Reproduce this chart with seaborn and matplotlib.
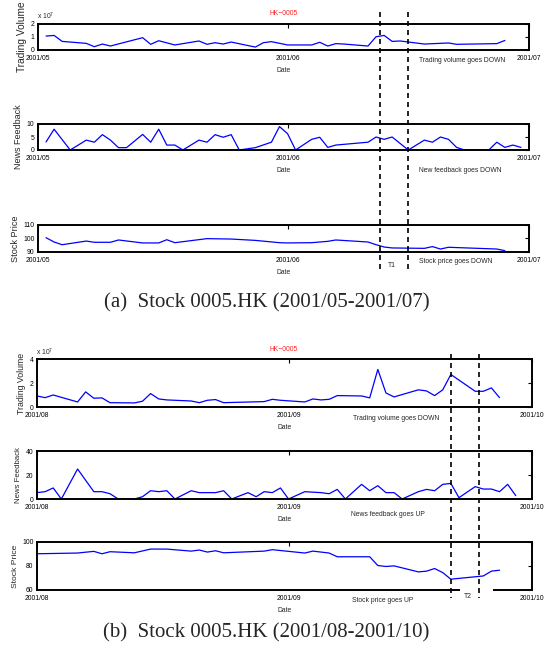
import pandas as pd
import matplotlib
matplotlib.use('Agg')
import matplotlib.pyplot as plt
import matplotlib.dates as mdates
from matplotlib.lines import Line2D
from matplotlib.patches import Rectangle
from matplotlib.transforms import blended_transform_factory
import seaborn as sns

# ---------------- data: (a) 2001/05 - 2001/07 ----------------
vol_a_dates = ['2001-05-02', '2001-05-03', '2001-05-04', '2001-05-07', '2001-05-08', '2001-05-09',
               '2001-05-10', '2001-05-14', '2001-05-15', '2001-05-16', '2001-05-18', '2001-05-21',
               '2001-05-22', '2001-05-23', '2001-05-24', '2001-05-25', '2001-05-28', '2001-05-29',
               '2001-05-30', '2001-06-01', '2001-06-04', '2001-06-05', '2001-06-06', '2001-06-07',
               '2001-06-08', '2001-06-11', '2001-06-12', '2001-06-13', '2001-06-14', '2001-06-15',
               '2001-06-18', '2001-06-21', '2001-06-22', '2001-06-27', '2001-06-28']
vol_a = [1.05, 1.1, 0.65, 0.5, 0.25, 0.45, 0.3, 0.93, 0.43, 0.7, 0.38, 0.68, 0.43, 0.55, 0.45,
         0.6, 0.22, 0.55, 0.63, 0.38, 0.38, 0.58, 0.3, 0.48, 0.45, 0.3, 1.0, 1.1, 0.65, 0.68,
         0.45, 0.53, 0.43, 0.48, 0.72]

news_a_dates = ['2001-05-02', '2001-05-03', '2001-05-05', '2001-05-07', '2001-05-08', '2001-05-09',
                '2001-05-10', '2001-05-11', '2001-05-12', '2001-05-14', '2001-05-15', '2001-05-16',
                '2001-05-17', '2001-05-18', '2001-05-19', '2001-05-21', '2001-05-22', '2001-05-23',
                '2001-05-24', '2001-05-25', '2001-05-26', '2001-05-28', '2001-05-30', '2001-05-31',
                '2001-06-01', '2001-06-02', '2001-06-04', '2001-06-05', '2001-06-06', '2001-06-07',
                '2001-06-11', '2001-06-12', '2001-06-13', '2001-06-14', '2001-06-16', '2001-06-18',
                '2001-06-19', '2001-06-20', '2001-06-21', '2001-06-22', '2001-06-23', '2001-06-26',
                '2001-06-27', '2001-06-28', '2001-06-29', '2001-06-30']
news_a = [3.1, 8, 0, 3.8, 3, 5.9, 3.8, 0.9, 0.9, 6, 3, 8, 1.9, 1.9, 0, 3.8, 3, 5.9, 4.9, 5.9, 0,
          0.9, 3, 9, 6.3, 0, 4.1, 4.9, 1, 1.9, 3, 5, 4.1, 5, 0, 3.8, 3, 5, 4.1, 1, 0, 0, 3, 1,
          1.9, 1]

price_a_dates = ['2001-05-02', '2001-05-03', '2001-05-04', '2001-05-07', '2001-05-08', '2001-05-10',
                 '2001-05-11', '2001-05-14', '2001-05-16', '2001-05-17', '2001-05-18', '2001-05-22',
                 '2001-05-25', '2001-05-28', '2001-05-31', '2001-06-01', '2001-06-04', '2001-06-05',
                 '2001-06-06', '2001-06-07', '2001-06-11', '2001-06-12', '2001-06-13', '2001-06-14',
                 '2001-06-18', '2001-06-19', '2001-06-20', '2001-06-21', '2001-06-27', '2001-06-28']
price_a = [100.6, 97.4, 95.4, 98.1, 97.2, 97.2, 98.9, 96.7, 96.7, 99.1, 96.9, 99.9, 99.6, 98.6,
           96.9, 96.7, 96.9, 97.4, 97.9, 98.9, 97.4, 95.4, 93.7, 93.0, 92.7, 94.0, 92.2, 93.5,
           92.2, 91.0]

events_a = ['2001-06-12 12:00', '2001-06-16 00:00']

# ---------------- data: (b) 2001/08 - 2001/10 ----------------
vol_b_dates = ['2001-08-01', '2001-08-02', '2001-08-03', '2001-08-06', '2001-08-07', '2001-08-08',
               '2001-08-09', '2001-08-10', '2001-08-13', '2001-08-14', '2001-08-15', '2001-08-16',
               '2001-08-17', '2001-08-20', '2001-08-21', '2001-08-22', '2001-08-23', '2001-08-24',
               '2001-08-29', '2001-08-30', '2001-08-31', '2001-09-03', '2001-09-04', '2001-09-05',
               '2001-09-06', '2001-09-07', '2001-09-10', '2001-09-11', '2001-09-12', '2001-09-13',
               '2001-09-14', '2001-09-17', '2001-09-18', '2001-09-19', '2001-09-20', '2001-09-21',
               '2001-09-24', '2001-09-25', '2001-09-26', '2001-09-27']
vol_b = [0.92, 0.78, 1.0, 0.42, 1.26, 0.73, 0.76, 0.36, 0.34, 0.48, 1.12, 0.67, 0.59, 0.5, 0.36,
         0.56, 0.62, 0.36, 0.45, 0.64, 0.56, 0.42, 0.67, 0.59, 0.64, 0.95, 0.92, 0.76, 3.13, 1.17,
         0.84, 1.43, 1.34, 0.95, 1.43, 2.71, 1.31, 1.31, 1.59, 0.78]

news_b_dates = ['2001-08-01', '2001-08-02', '2001-08-03', '2001-08-04', '2001-08-06', '2001-08-08',
                '2001-08-09', '2001-08-10', '2001-08-11', '2001-08-13', '2001-08-14', '2001-08-15',
                '2001-08-16', '2001-08-17', '2001-08-18', '2001-08-20', '2001-08-21', '2001-08-23',
                '2001-08-24', '2001-08-25', '2001-08-27', '2001-08-28', '2001-08-29', '2001-08-30',
                '2001-08-31', '2001-09-01', '2001-09-03', '2001-09-05', '2001-09-06', '2001-09-07',
                '2001-09-08', '2001-09-10', '2001-09-11', '2001-09-12', '2001-09-13', '2001-09-14',
                '2001-09-15', '2001-09-17', '2001-09-18', '2001-09-19', '2001-09-20', '2001-09-21',
                '2001-09-22', '2001-09-24', '2001-09-25', '2001-09-26', '2001-09-27', '2001-09-28',
                '2001-09-29']
news_b = [5.3, 6.1, 9.2, 0, 25, 6.1, 6.1, 4.4, 0, 0, 1.9, 6.9, 6.1, 6.9, 0, 6.9, 5.3, 5.3, 6.9, 0,
          5.3, 1.9, 6.1, 5.3, 9.2, 0, 6.1, 5.3, 4.4, 8, 0, 12.2, 6.9, 11.1, 5.3, 5.3, 0, 6.1, 8,
          6.9, 12.2, 13, 1.1, 10.3, 8.3, 8.3, 6.1, 12.2, 2.8]

price_b_dates = ['2001-08-01', '2001-08-06', '2001-08-08', '2001-08-09', '2001-08-10', '2001-08-13',
                 '2001-08-15', '2001-08-17', '2001-08-20', '2001-08-21', '2001-08-22', '2001-08-23',
                 '2001-08-24', '2001-08-29', '2001-08-30', '2001-09-03', '2001-09-04', '2001-09-06',
                 '2001-09-07', '2001-09-11', '2001-09-12', '2001-09-13', '2001-09-14', '2001-09-17',
                 '2001-09-18', '2001-09-19', '2001-09-20', '2001-09-21', '2001-09-25', '2001-09-26',
                 '2001-09-27']
price_b = [90.2, 90.8, 92.2, 90.2, 91.9, 91.0, 94.1, 94.1, 92.4, 93.3, 91.6, 92.7, 91.0, 92.4, 93.6,
           90.8, 92.4, 90.8, 87.7, 87.7, 80.4, 79.6, 80.1, 75.1, 75.7, 77.9, 74.5, 69.0, 71.7, 75.7,
           76.5]

events_b = ['2001-09-21 00:00', '2001-09-24 11:00']

# ---------------- style ----------------
sns.set_theme(style='white')
REG = ['Liberation Sans', 'DejaVu Sans']
plt.rcParams['font.family'] = REG
plt.rcParams['mathtext.fontset'] = 'custom'
plt.rcParams['mathtext.rm'] = 'Liberation Sans'
FS = 4.9

W, H = 558, 651
fig = plt.figure(figsize=(W / 100, H / 100), dpi=100)
fig.patch.set_facecolor('white')


def fy(y):
    return 1 - y / H


def rect(l, r, t, b):
    return [l / W, 1 - b / H, (r - l) / W, (b - t) / H]


def panel(box, dates, values, ylim, yticks, ylabel, ylsize, xr):
    ax = fig.add_axes(rect(*box))
    df = pd.DataFrame({'date': pd.to_datetime(dates), 'value': values})
    sns.lineplot(data=df, x='date', y='value', ax=ax, color='#0000ff', linewidth=0.9)
    x0, xm, x1 = [mdates.date2num(pd.Timestamp(d)) for d in xr]
    ax.set_xlim(x0, x1)
    ax.set_ylim(*ylim)
    ax.set_yticks(yticks)
    ax.set_yticklabels([str(v) for v in yticks])
    ax.set_xticks([x0, xm, x1])
    ax.set_xticklabels([pd.Timestamp(d).strftime('%Y/%m') for d in xr])
    ax.set_xlabel('Date', fontsize=FS, labelpad=4)
    ax.set_ylabel(ylabel, fontsize=ylsize, labelpad=2.5)
    ax.tick_params(direction='in', length=3, width=0.8, top=True, right=True,
                   labelsize=FS, pad=3.5, colors='black')
    ax.tick_params(axis='y', pad=2.5)
    ax.set_facecolor('white')
    for s in ax.spines.values():
        s.set_visible(True)
        s.set_linewidth(1.4)
        s.set_color('black')
    return ax


def events(ax, dates, ytop, ybot):
    tr = blended_transform_factory(ax.transData, fig.transFigure)
    for d in dates:
        x = mdates.date2num(pd.Timestamp(d))
        fig.add_artist(Line2D([x, x], [fy(ytop), fy(ybot)], transform=tr, color='black',
                              lw=1.2, dashes=(3, 2.4), zorder=10))


def ftext(x, y, s, ha='left', **kw):
    fig.text(x / W, fy(y), s, ha=ha, va='center', fontsize=kw.pop('fontsize', FS), **kw)


CAP = dict(fontsize=15, family=['Liberation Serif', 'DejaVu Serif'])

# ---- (a)
xr_a = ('2001-05-01', '2001-06-01', '2001-07-01')
a1 = panel((38, 529, 23.5, 50), vol_a_dates, vol_a, (0, 2), [0, 1, 2], 'Trading Volume', 7.3, xr_a)
a2 = panel((38, 529, 124, 150), news_a_dates, news_a, (0, 10), [0, 5, 10], 'News Feedback', 6.5, xr_a)
a3 = panel((38, 529, 225, 252), price_a_dates, price_a, (90, 110), [90, 100, 110], 'Stock Price', 6.6, xr_a)
events(a1, events_a, 12, 271)
ftext(283.5, 13.5, 'HK\u22120005', ha='center', color='#ff2020')
ftext(37, 16, r'x 10$^7$')
ftext(419, 61, 'Trading volume goes DOWN')
ftext(419, 170, 'New feedback goes DOWN')
ftext(419, 261.5, 'Stock price goes DOWN')
ftext(392, 265, 'T1', ha='center')
ftext(266.5, 303, '(a)  Stock 0005.HK (2001/05-2001/07)', ha='center', **CAP)

# ---- (b)
xr_b = ('2001-08-01', '2001-09-01', '2001-10-01')
b1 = panel((37, 532, 359, 407), vol_b_dates, vol_b, (0, 4), [0, 2, 4], 'Trading Volume', 6.3, xr_b)
b2 = panel((37, 532, 451, 499), news_b_dates, news_b, (0, 40), [0, 20, 40], 'News Feedback', 5.6, xr_b)
b3 = panel((37, 532, 542, 590), price_b_dates, price_b, (60, 100), [60, 80, 100], 'Stock Price', 6.1, xr_b)
events(b1, events_b, 354, 598)
fig.add_artist(Rectangle((460 / W, fy(606)), 33 / W, 18 / H, transform=fig.transFigure,
                         facecolor='white', edgecolor='none', zorder=5))
ftext(283.5, 349.5, 'HK\u22120005', ha='center', color='#ff2020')
ftext(36, 352.5, r'x 10$^7$')
ftext(352.7, 418, 'Trading volume goes DOWN')
ftext(351, 515, 'News feedback goes UP')
ftext(352, 600.7, 'Stock price goes UP')
fig.text(468 / W, fy(597), 'T2', ha='center', va='center', fontsize=FS, zorder=11)
ftext(266.5, 633, '(b)  Stock 0005.HK (2001/08-2001/10)', ha='center', **CAP)

fig.savefig('out.png', dpi=100, facecolor='white')
